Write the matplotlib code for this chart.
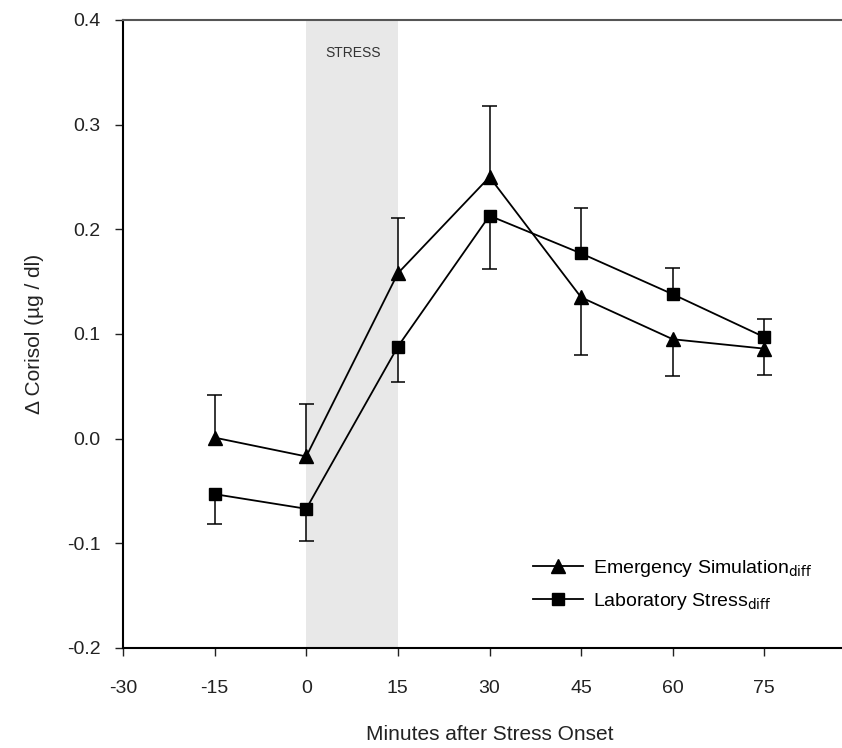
import matplotlib
matplotlib.use("Agg")
import matplotlib.pyplot as plt
from matplotlib.lines import Line2D

plt.rcParams['font.family'] = ['Liberation Sans', 'DejaVu Sans']
plt.rcParams['axes.unicode_minus'] = False

minutes = [-15, 0, 15, 30, 45, 60, 75]

emergency = [0.001, -0.017, 0.158, 0.250, 0.135, 0.095, 0.086]
emergency_err = [0.041, 0.050, 0.053, 0.068, 0.055, 0.035, 0.025]
emergency_up = [True, True, True, True, False, False, False]

lab = [-0.053, -0.067, 0.088, 0.213, 0.177, 0.138, 0.097]
lab_err = [0.029, 0.031, 0.034, 0.051, 0.043, 0.025, 0.017]
lab_up = [False, False, False, False, True, True, True]

stress_start, stress_end = 0, 15


def draw_errors(ax, xs, ys, errs, up, cap=1.2):
    # one-sided error bars, cap only at the far end
    ends = [y + e if u else y - e for y, e, u in zip(ys, errs, up)]
    ax.vlines(xs, ys, ends, color="black", lw=1.1, zorder=2)
    ax.hlines(ends, [x - cap for x in xs], [x + cap for x in xs], color="black", lw=1.1, zorder=2)


fig = plt.figure(figsize=(8.42, 7.48), dpi=100)
ax = fig.add_axes([123 / 842, 100 / 748, 733 / 842, 628 / 748])

ax.axvspan(stress_start, stress_end, color="#e8e8e8", zorder=0, lw=0)
ax.text(7.7, 0.368, "STRESS", ha="center", va="center", fontsize=10, color="#333333")

draw_errors(ax, minutes, emergency, emergency_err, emergency_up)
draw_errors(ax, minutes, lab, lab_err, lab_up)
ax.plot(minutes, emergency, color="black", lw=1.3, marker="^", ms=10, zorder=3)
ax.plot(minutes, lab, color="black", lw=1.3, marker="s", ms=9, zorder=3)

ax.set_xlim(-30, 90)
ax.set_ylim(-0.2, 0.4)
ax.set_xticks([-30, -15, 0, 15, 30, 45, 60, 75])
ax.set_yticks([-0.2, -0.1, 0.0, 0.1, 0.2, 0.3, 0.4])
ax.set_yticklabels(["-0.2", "-0.1", "0.0", "0.1", "0.2", "0.3", "0.4"])
ax.tick_params(labelsize=14, length=6, width=1, direction="out", colors="#222222")
ax.tick_params(axis="x", pad=17)
ax.tick_params(axis="y", pad=10)

for s in ax.spines.values():
    s.set_linewidth(1.5)
ax.spines["top"].set_color("#555555")

ax.set_xlabel("Minutes after Stress Onset", fontsize=15, labelpad=20, color="#222222")
ax.set_ylabel("\u0394 Corisol (\u00b5g / dl)", fontsize=15, labelpad=17, color="#222222")

handles = [
    Line2D([], [], color="black", lw=1.3, marker="^", ms=10),
    Line2D([], [], color="black", lw=1.3, marker="s", ms=9),
]
labels = ["Emergency Simulation$_{\\mathrm{diff}}$", "Laboratory Stress$_{\\mathrm{diff}}$"]
ax.legend(handles, labels, loc="lower left", bbox_to_anchor=(0.535, 0.03), frameon=False,
          fontsize=14, handlelength=2.6, handletextpad=0.5, labelspacing=0.6)

fig.savefig("out.png", dpi=100)
